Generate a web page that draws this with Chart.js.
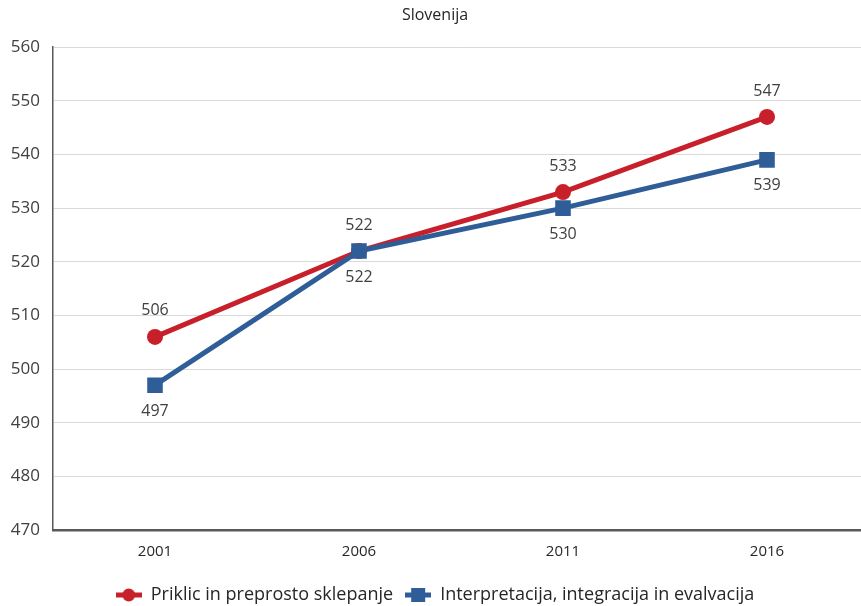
<!DOCTYPE html>
<html>
<head>
<meta charset="utf-8">
<script src="https://cdn.jsdelivr.net/npm/chart.js@4/dist/chart.umd.min.js"></script>
<style>
  html, body { margin: 0; padding: 0; background: #ffffff; overflow: hidden; }
  #wrap { width: 880px; height: 614px; position: relative; }
</style>
</head>
<body>
<div id="wrap"><canvas id="c"></canvas></div>
<script>
// PIRLS reading scores, Slovenia
const years = ['2001', '2006', '2011', '2016'];
const retrievalScores = [506, 522, 533, 547];      // Priklic in preprosto sklepanje
const interpretScores = [497, 522, 530, 539];      // Interpretacija, integracija in evalvacija
const seriesNames = ['Priklic in preprosto sklepanje', 'Interpretacija, integracija in evalvacija'];
const yMin = 470, yMax = 560, yStep = 10;

const RED = '#C8202A';
const BLUE = '#2F5D98';
const TEXT = '#404040';
const FONT = "'Open Sans', 'Noto Sans', sans-serif";

// small line-with-marker swatch used as the legend symbol
function legendSwatch(color, shape) {
  const cv = document.createElement('canvas');
  cv.width = 26; cv.height = 16;
  const g = cv.getContext('2d');
  g.strokeStyle = color; g.lineWidth = 5;
  g.beginPath(); g.moveTo(0, 8); g.lineTo(26, 8); g.stroke();
  g.fillStyle = color;
  if (shape === 'circle') {
    g.beginPath(); g.arc(13, 8, 6.5, 0, Math.PI * 2); g.fill();
  } else {
    g.fillRect(6, 1, 14, 14);
  }
  return cv;
}

// draws each point's value above or below the marker
const valueLabels = {
  id: 'valueLabels',
  afterDatasetsDraw(chart) {
    const ctx = chart.ctx;
    ctx.save();
    ctx.font = '16px ' + FONT;
    ctx.fillStyle = TEXT;
    ctx.textAlign = 'center';
    ctx.textBaseline = 'middle';
    chart.data.datasets.forEach((ds, i) => {
      const meta = chart.getDatasetMeta(i);
      const off = ds.labelSide === 'below' ? 26 : -26;
      meta.data.forEach((pt, j) => {
        ctx.fillText(String(ds.data[j]), pt.x, pt.y + off);
      });
    });
    ctx.restore();
  }
};

new Chart(document.getElementById('c'), {
  type: 'line',
  data: {
    labels: years,
    datasets: [
      {
        label: seriesNames[0],
        data: retrievalScores,
        borderColor: RED,
        backgroundColor: RED,
        borderWidth: 5,
        pointStyle: 'circle',
        pointRadius: 8,
        pointHoverRadius: 8,
        pointBorderWidth: 0,
        labelSide: 'above',
        order: 1,
        legendStyle: legendSwatch(RED, 'circle')
      },
      {
        label: seriesNames[1],
        data: interpretScores,
        borderColor: BLUE,
        backgroundColor: BLUE,
        borderWidth: 5,
        pointStyle: 'rect',
        pointRadius: 11,
        pointHoverRadius: 11,
        pointBorderWidth: 0,
        labelSide: 'below',
        order: 0,
        legendStyle: legendSwatch(BLUE, 'rect')
      }
    ]
  },
  options: {
    responsive: true,
    maintainAspectRatio: false,
    animation: false,
    layout: { padding: { left: 0, right: 10, top: 0, bottom: 0 } },
    plugins: {
      title: {
        display: true,
        text: 'Slovenija',
        color: '#262626',
        font: { family: FONT, size: 16, weight: 'normal' },
        padding: { top: 6, bottom: 22 }
      },
      legend: {
        position: 'bottom',
        labels: {
          usePointStyle: true,
          pointStyleWidth: 26,
          padding: 12,
          color: '#262626',
          font: { family: FONT, size: 18 },
          sort: (a, b) => a.datasetIndex - b.datasetIndex,
          generateLabels(chart) {
            return chart.data.datasets.map((ds, i) => ({
              text: ds.label,
              datasetIndex: i,
              pointStyle: ds.legendStyle,
              fillStyle: ds.borderColor,
              strokeStyle: ds.borderColor,
              lineWidth: 0,
              hidden: false,
              fontColor: '#262626'
            }));
          }
        }
      },
      tooltip: { enabled: false }
    },
    scales: {
      x: {
        offset: true,
        grid: { drawOnChartArea: false, drawTicks: false },
        border: { display: true, color: '#595959', width: 2.5 },
        ticks: { color: '#262626', padding: 13, font: { family: "'Liberation Sans Narrow', 'Open Sans', sans-serif", size: 15 } },
        afterFit(scale) { scale.height = 44; }
      },
      y: {
        min: yMin,
        max: yMax,
        ticks: { stepSize: yStep, color: TEXT, padding: 13, font: { family: FONT, size: 17 } },
        grid: { color: '#D9D9D9', lineWidth: 1, drawTicks: false },
        border: { display: true, color: '#595959', width: 1.5 },
        afterFit(scale) { scale.width = 53; }
      }
    }
  },
  plugins: [valueLabels]
});
</script>
</body>
</html>
